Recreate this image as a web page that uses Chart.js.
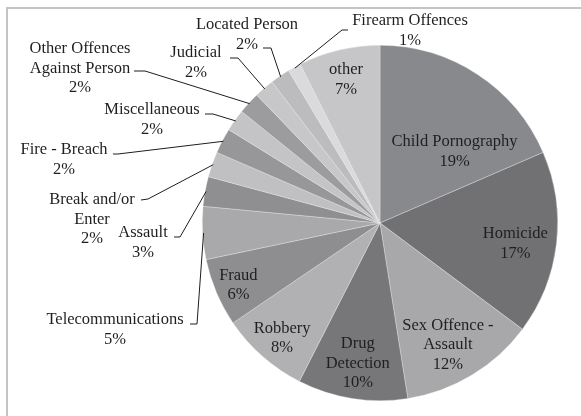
<!DOCTYPE html>
<html>
<head>
<meta charset="utf-8">
<script src="https://cdn.jsdelivr.net/npm/chart.js@4.4.0/dist/chart.umd.min.js"></script>
<style>
  body { margin: 0; background: #fff; }
  #wrap { position: relative; width: 581px; height: 416px; overflow: hidden; }
  #frame { position: absolute; left: 6px; top: 7px; right: -10px; bottom: -10px; border: 2px solid #c4c4c4; }
  #c { position: absolute; left: 0; top: 0; }
</style>
</head>
<body>
<div id="wrap">
  <div id="frame"></div>
  <canvas id="c" width="581" height="416"></canvas>
</div>
<script>
const categories = [
  'Child Pornography', 'Homicide', 'Sex Offence - Assault', 'Drug Detection',
  'Robbery', 'Fraud', 'Telecommunications', 'Assault', 'Break and/or Enter',
  'Fire - Breach', 'Miscellaneous', 'Other Offences Against Person', 'Judicial',
  'Located Person', 'Firearm Offences', 'other'
];
const shares = [18.5, 16.7, 12.3, 10.0, 8.0, 6.2, 4.8, 2.7, 2.3, 2.3, 2.0, 2.0, 1.8, 1.8, 1.2, 7.4];
const sliceColors = [
  '#88898c', '#717174', '#a8a8ab', '#77777a', '#b1b1b3', '#8e8e91', '#a9a9ac', '#8f8f92',
  '#c0c0c2', '#97979a', '#c4c4c6', '#9c9c9f', '#c7c7c9', '#bcbcbe', '#dadadc', '#c6c6c8'
];

// label placement: inside labels use radius fraction + angle offset (deg) from slice middle,
// outside labels give text centre and where the leader line starts
const labelLayout = {
  0:  { r: 0.58, da: 13 },
  1:  { r: 0.77, da: 2 },
  2:  { r: 0.785, da: 2, lines: ['Sex Offence -', 'Assault'] },
  3:  { r: 0.80, da: 0, lines: ['Drug', 'Detection'] },
  4:  { r: 0.85, da: -1 },
  5:  { r: 0.87, da: -0.6 },
  6:  { tx: 115, ty: 320, lead: [[190, 324], [197, 324]] },
  7:  { tx: 143, ty: 233, lead: [[174, 237], [180, 237]] },
  8:  { tx: 92, ty: 200, lines: ['Break and/or', 'Enter'], lead: [[141, 200], [148, 199]] },
  9:  { tx: 64, ty: 150, lead: [[113, 154], [118, 154]] },
  10: { tx: 152, ty: 110, lead: [[205, 114], [213, 114]] },
  11: { tx: 80, ty: 49, lines: ['Other Offences', 'Against Person'], lead: [[134, 71], [145, 71]] },
  12: { tx: 196, ty: 53, lead: [[230, 58], [238, 58]] },
  13: { tx: 247, ty: 25, lead: [[263, 48], [271, 48]] },
  14: { tx: 410, ty: 21, lead: [[348, 30], [342, 30]] },
  15: { r: 0.83, da: 0 }
};

const lineH = 19.5;

const pieLabels = {
  id: 'pieLabels',
  afterDatasetsDraw(chart) {
    const ctx = chart.ctx;
    const meta = chart.getDatasetMeta(0);
    const total = shares.reduce((a, b) => a + b, 0);
    ctx.save();
    ctx.font = '16.5px "Liberation Serif", "Times New Roman", serif';
    ctx.fillStyle = '#1f1f1f';
    ctx.textAlign = 'center';
    ctx.textBaseline = 'middle';
    meta.data.forEach((arc, i) => {
      const p = arc.getProps(['x', 'y', 'startAngle', 'endAngle', 'outerRadius'], true);
      const mid = (p.startAngle + p.endAngle) / 2;
      const lay = labelLayout[i];
      const lines = (lay.lines || [categories[i]]).concat([Math.round(shares[i] / total * 100) + '%']);
      let cx, cy;
      if (lay.r !== undefined) {
        const a = mid + lay.da * Math.PI / 180;
        cx = p.x + Math.cos(a) * p.outerRadius * lay.r;
        cy = p.y + Math.sin(a) * p.outerRadius * lay.r - (lines.length - 1) * lineH / 2;
      } else {
        cx = lay.tx;
        cy = lay.ty;
        const ex = p.x + Math.cos(mid) * (p.outerRadius - 1);
        const ey = p.y + Math.sin(mid) * (p.outerRadius - 1);
        ctx.beginPath();
        ctx.strokeStyle = '#1e1e1e';
        ctx.lineWidth = 1;
        ctx.moveTo(lay.lead[0][0], lay.lead[0][1]);
        ctx.lineTo(lay.lead[1][0], lay.lead[1][1]);
        ctx.lineTo(ex, ey);
        ctx.stroke();
      }
      lines.forEach((t, k) => ctx.fillText(t, cx, cy + k * lineH));
    });
    ctx.restore();
  }
};

new Chart(document.getElementById('c').getContext('2d'), {
  type: 'pie',
  data: {
    labels: categories,
    datasets: [{
      data: shares,
      backgroundColor: sliceColors,
      borderColor: 'rgba(235,235,237,0.6)',
      borderWidth: 0.6
    }]
  },
  options: {
    responsive: false,
    animation: false,
    layout: { padding: { left: 202, right: 23, top: 45, bottom: 15 } },
    plugins: {
      legend: { display: false },
      tooltip: { enabled: false }
    }
  },
  plugins: [pieLabels]
});
</script>
</body>
</html>
